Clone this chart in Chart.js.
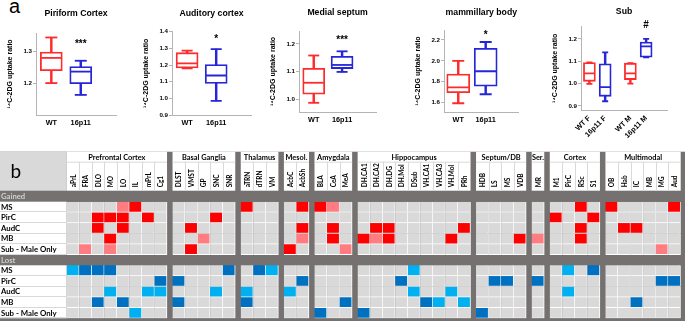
<!DOCTYPE html>
<html>
<head>
<meta charset="utf-8">
<style>
  html, body { margin: 0; padding: 0; background: #fff; }
  #fig { position: relative; width: 685px; height: 321px; overflow: hidden; }
  canvas { position: absolute; }
  #lblA { position: absolute; left: 9px; top: -3.6px; font: 20px 'Liberation Sans', Arial, sans-serif; line-height: 20px; }
</style>
<script src="https://cdn.jsdelivr.net/npm/chart.js@4"></script>
</head>
<body>
<div id="fig">
  <div id="lblA">a</div>
  <canvas id="cPir"></canvas>
  <canvas id="cAud"></canvas>
  <canvas id="cMS"></canvas>
  <canvas id="cMB"></canvas>
  <canvas id="cSub"></canvas>
  <canvas id="cB"></canvas>
</div>
<script>
// ---------- panel a: box plots, [min, Q1, median, Q3, max] ----------
const pairLabels = ['WT', '16p11'];
const subLabels = ['WT F', '16p11 F', 'WT M', '16p11 M'];

const piriformWT = [1.200, 1.239, 1.279, 1.297, 1.343];
const piriform16p11 = [1.163, 1.198, 1.236, 1.252, 1.270];
const auditoryWT = [1.180, 1.183, 1.210, 1.274, 1.286];
const auditory16p11 = [0.985, 1.089, 1.137, 1.203, 1.296];
const septumWT = [0.988, 1.019, 1.060, 1.112, 1.158];
const septum16p11 = [1.099, 1.111, 1.124, 1.155, 1.173];
const mammillaryWT = [1.594, 1.695, 1.746, 1.874, 2.000];
const mammillary16p11 = [1.680, 1.757, 1.900, 2.120, 2.180];
const subWTF = [0.999, 1.010, 1.046, 1.094, 1.095];
const sub16p11F = [0.921, 0.943, 0.984, 1.088, 1.139];
const subWTM = [1.000, 1.018, 1.046, 1.091, 1.091];
const sub16p11M = [1.117, 1.118, 1.166, 1.185, 1.200];

const piriformTicks = [1.2, 1.3];
const auditoryTicks = [0.9, 1.0, 1.1, 1.2, 1.3, 1.4];
const septumTicks = [1.0, 1.1, 1.2];
const mammillaryTicks = [1.6, 1.8, 2.0, 2.2];
const subTicks = [0.9, 1.0, 1.1, 1.2];

// ---------- panel b: 0 = none, 1 = weak, 2 = strong ----------
const groupNames = ['Prefrontal Cortex', 'Basal Ganglia', 'Thalamus', 'Mesol.', 'Amygdala',
  'Hippocampus', 'Septum/DB', 'Ser.', 'Cortex', 'Multimodal'];
const groupSizes = [8, 5, 3, 2, 3, 9, 4, 1, 4, 6];
const regions = ['aPrL', 'FRA', 'DLO', 'MO', 'LO', 'IL', 'mPrL', 'Cg1',
  'DLST', 'VMST', 'GP', 'SNC', 'SNR',
  'aTRN', 'dTRN', 'VM',
  'AcbC', 'AcbSh',
  'BLA', 'CeA', 'MeA',
  'DH.CA1', 'DH.CA2', 'DH.DG', 'DH.Mol', 'DSub', 'VH.CA1', 'VH.CA3', 'VH.Mol', 'PRh',
  'HDB', 'LS', 'MS', 'VDB',
  'MR',
  'M1', 'PirC', 'RSc', 'S1',
  'OB', 'Hab', 'IC', 'MB', 'MG', 'Aud'];
const rowLabels = ['MS', 'PirC', 'AudC', 'MB', 'Sub - Male Only'];

const gainedMS   = [0,0,0,0,1,2,0,0, 0,0,0,0,0, 2,0,0, 0,2, 2,1,0, 0,0,0,0,0,0,0,0,0, 0,0,0,0, 0, 0,0,2,0, 2,0,0,0,0,2];
const gainedPirC = [0,0,2,2,2,0,2,0, 0,0,0,2,0, 0,0,0, 0,0, 0,0,0, 0,0,0,0,0,0,0,0,0, 0,0,0,0, 0, 2,0,0,2, 0,0,0,0,0,0];
const gainedAudC = [0,0,2,0,2,0,0,0, 0,2,0,0,0, 0,0,0, 0,2, 0,2,0, 0,2,2,0,0,0,0,0,2, 0,0,0,0, 0, 0,0,2,0, 0,2,2,0,0,0];
const gainedMB   = [0,0,0,2,0,0,0,0, 0,0,1,0,0, 0,0,0, 0,1, 0,2,0, 2,1,2,0,0,0,0,2,0, 0,0,0,2, 1, 0,0,2,0, 0,0,0,0,0,0];
const gainedSub  = [0,1,0,1,0,0,0,0, 0,2,0,0,0, 0,0,0, 2,0, 0,0,1, 0,0,0,0,0,0,0,0,0, 0,0,0,0, 0, 0,0,0,0, 0,0,0,0,1,0];

const lostMS   = [1,2,2,2,0,0,0,0, 0,0,0,0,2, 0,2,1, 0,0, 0,0,0, 0,0,0,0,1,0,0,0,0, 0,0,0,0, 0, 0,1,0,2, 0,0,0,0,0,0];
const lostPirC = [0,0,0,0,0,0,0,2, 2,0,0,0,0, 0,0,0, 0,2, 0,0,0, 0,0,0,2,0,0,0,0,0, 0,2,2,0, 2, 0,0,0,0, 0,0,0,0,2,2];
const lostAudC = [0,0,0,1,0,0,1,1, 0,0,0,1,0, 1,0,0, 1,0, 0,0,0, 0,0,0,0,1,0,0,1,0, 0,0,0,0, 0, 0,1,0,0, 0,0,0,0,0,0];
const lostMB   = [0,0,2,0,2,0,0,0, 2,0,0,0,0, 2,0,0, 0,0, 0,0,2, 0,0,0,0,0,2,1,0,1, 0,0,0,0, 0, 0,0,0,0, 0,0,2,0,0,0];
const lostSub  = [0,0,0,0,0,1,0,0, 0,0,0,0,0, 0,0,0, 0,0, 2,0,0, 2,0,0,0,0,0,0,0,0, 2,0,0,0, 0, 0,0,0,0, 0,0,0,0,0,0];

// ---------- styling ----------
Chart.defaults.font.family = "'Liberation Sans', Arial, sans-serif";
Chart.defaults.color = '#000';
const RED = '#ff2a2a';
const BLUE = '#2626d9';
const AXIS = '#b4b4b4';
const DARK = '#767171';
const LIGHT = '#d9d9d9';
const gainColors = [LIGHT, '#ff7c80', '#ff0000'];
const lossColors = [LIGHT, '#00b0f0', '#0070c0'];
const HFONT = "Lato, 'Open Sans', sans-serif";

// significance marks above a group
const sigMark = {
  id: 'sig',
  afterDatasetsDraw(chart, args, opts) {
    if (!opts.text) return;
    const ctx = chart.ctx;
    ctx.save();
    ctx.font = 'bold 10px "Liberation Sans", Arial, sans-serif';
    ctx.fillStyle = '#000';
    ctx.textAlign = 'center';
    ctx.textBaseline = 'middle';
    ctx.fillText(opts.text, chart.scales.x.getPixelForValue(opts.at), opts.y);
    ctx.restore();
  }
};

function boxChart(id, o) {
  const axisW = 30;
  const cv = document.getElementById(id);
  cv.width = o.right - o.left + axisW + 4;
  cv.height = o.bottom + o.xH;
  cv.style.left = (o.left - axisW) + 'px';
  cv.style.top = '0px';

  const whisk = o.groups.map((g, i) => ({x: o.pos[i], y: [g[0], g[4]]}));
  const box = o.groups.map((g, i) => ({x: o.pos[i], y: [g[1], g[3]]}));
  const med = o.groups.map((g, i) => ({x: o.pos[i], y: g[2]}));
  const caps = o.groups.flatMap((g, i) => [{x: o.pos[i], y: g[0]}, {x: o.pos[i], y: g[4]}]);
  const capColors = o.colors.flatMap(c => [c, c]);

  new Chart(cv, {
    type: 'bar',
    data: {
      datasets: [
        {type: 'line', data: med, showLine: false, pointStyle: 'line', pointRadius: o.boxW / 2 - 0.9,
         pointBorderColor: o.colors, pointBorderWidth: 1.8, order: 0},
        {type: 'line', data: caps, showLine: false, pointStyle: 'line', pointRadius: o.capW / 2,
         pointBorderColor: capColors, pointBorderWidth: 1.8, order: 0},
        {data: box, backgroundColor: '#fff', borderColor: o.colors, borderWidth: 1.8,
         borderSkipped: false, barThickness: o.boxW, order: 1},
        {data: whisk, backgroundColor: o.colors, borderWidth: 0, barThickness: 1.8, order: 2}
      ]
    },
    options: {
      responsive: false,
      animation: false,
      events: [],
      layout: {padding: {left: 0, right: 4, top: 0, bottom: 0}},
      plugins: {
        legend: {display: false},
        tooltip: {enabled: false},
        title: {display: true, text: o.title, fullSize: false, color: '#000',
                font: {size: 8.7, weight: 'bold'},
                padding: {top: o.tTop, bottom: o.top - o.tTop - 10.44}},
        sig: o.sig
      },
      scales: {
        x: {
          type: 'linear', stacked: true, offset: false, min: o.xMin, max: o.xMax,
          afterBuildTicks: s => { s.ticks = o.pos.map(v => ({value: v})); },
          afterFit: s => { s.height = o.xH; },
          grid: {display: false, drawTicks: false},
          border: {display: true, color: AXIS, width: 1},
          ticks: {autoSkip: false, padding: 4, minRotation: o.rot, maxRotation: o.rot,
                  font: {size: 7.3, weight: 'bold'}, callback: (v, i) => o.labels[i]}
        },
        y: {
          type: 'linear', stacked: false, min: o.yMin, max: o.yMax,
          afterBuildTicks: s => { s.ticks = o.yTicks.map(v => ({value: v})); },
          afterFit: s => { s.width = axisW; },
          grid: {drawOnChartArea: false, drawTicks: true, tickLength: 3, color: AXIS},
          border: {display: true, color: AXIS, width: 1},
          ticks: {padding: 1, font: {size: 6.2, weight: 'bold'}, callback: v => v.toFixed(1)},
          title: {display: true, text: '¹⁴C-2DG uptake ratio', color: '#000',
                  font: {size: 7, weight: 'bold'}, padding: 0}
        }
      }
    },
    plugins: [sigMark]
  });
}

const pairPos = [1, 2];
const subPos = [1, 2, 3.6, 4.6];

boxChart('cPir', {left: 36, right: 124.4, top: 33, bottom: 115, xH: 20, tTop: 8.8,
  title: 'Piriform Cortex', labels: pairLabels, pos: pairPos, xMin: 0.48, xMax: 3.2, rot: 0,
  groups: [piriformWT, piriform16p11], colors: [RED, BLUE], boxW: 22, capW: 12,
  yMin: 1.1, yMax: 1.357, yTicks: piriformTicks, sig: {text: '***', at: 2, y: 44}});

boxChart('cAud', {left: 172, right: 259, top: 31.7, bottom: 115, xH: 20, tTop: 8.8,
  title: 'Auditory cortex', labels: pairLabels, pos: pairPos, xMin: 0.48, xMax: 3.2, rot: 0,
  groups: [auditoryWT, auditory16p11], colors: [RED, BLUE], boxW: 22, capW: 11,
  yMin: 0.9, yMax: 1.4, yTicks: auditoryTicks, sig: {text: '*', at: 2, y: 39.5}});

boxChart('cMS', {left: 299, right: 384.7, top: 31, bottom: 112.7, xH: 20, tTop: 7.8,
  title: 'Medial septum', labels: pairLabels, pos: pairPos, xMin: 0.48, xMax: 3.2, rot: 0,
  groups: [septumWT, septum16p11], colors: [RED, BLUE], boxW: 22, capW: 11,
  yMin: 0.955, yMax: 1.246, yTicks: septumTicks, sig: {text: '***', at: 2, y: 40.5}});

boxChart('cMB', {left: 444, right: 527, top: 30, bottom: 112, xH: 20, tTop: 7.5,
  title: 'mammillary body', labels: pairLabels, pos: pairPos, xMin: 0.48, xMax: 3.2, rot: 0,
  groups: [mammillaryWT, mammillary16p11], colors: [RED, BLUE], boxW: 23, capW: 12,
  yMin: 1.51, yMax: 2.295, yTicks: mammillaryTicks, sig: {text: '*', at: 2, y: 35.5}});

boxChart('cSub', {left: 581, right: 670, top: 26.7, bottom: 110, xH: 34, tTop: 6.8,
  title: 'Sub', labels: subLabels, pos: subPos, xMin: 0.466, xMax: 5.93, rot: 45,
  groups: [subWTF, sub16p11F, subWTM, sub16p11M], colors: [RED, BLUE, RED, BLUE], boxW: 12, capW: 6,
  yMin: 0.882, yMax: 1.254, yTicks: subTicks, sig: {text: '#', at: 4.6, y: 25}});

// ---------- panel b: region grid ----------
const GAP = 0.44;
const groupStart = [];
let acc = 0;
groupSizes.forEach(n => { groupStart.push(acc); acc += n + GAP; });
const xTotal = acc - GAP;
const colX = [];
groupSizes.forEach((n, g) => { for (let k = 0; k < n; k++) colX.push(groupStart[g] + k + 0.5); });

const gainedRows = [gainedMS, gainedPirC, gainedAudC, gainedMB, gainedSub];
const lostRows = [lostMS, lostPirC, lostAudC, lostMB, lostSub];
const LOST_OFFSET = 6;

function cellSet(row, r, pal) {
  return {
    data: row.map((v, i) => ({x: colX[i], y: [r, r + 1]})),
    backgroundColor: row.map(v => pal[v]),
    borderColor: '#ffffff',
    borderWidth: {top: 0, left: 0, right: 1, bottom: 1},
    borderSkipped: false,
    categoryPercentage: 1,
    barPercentage: 1
  };
}

const frame = {
  id: 'frame',
  beforeDatasetsDraw(chart) {
    const {ctx, chartArea: a, scales: {x, y}} = chart;
    const hTop = a.top - 50, gRow = hTop + 10, hBot = a.top - 11;
    ctx.save();
    ctx.fillStyle = DARK;
    ctx.fillRect(0, hTop, chart.width, chart.height - hTop);
    ctx.fillStyle = LIGHT;
    ctx.fillRect(0, hTop, a.left, hBot - hTop);
    ctx.fillStyle = '#000';
    ctx.font = '19px ' + HFONT;
    ctx.textAlign = 'left';
    ctx.textBaseline = 'alphabetic';
    ctx.fillText('b', 10.5, hTop + 26.6);

    // group headers
    groupNames.forEach((name, g) => {
      const x0 = x.getPixelForValue(groupStart[g]);
      const x1 = x.getPixelForValue(groupStart[g] + groupSizes[g]);
      ctx.fillStyle = '#fff';
      ctx.fillRect(x0, hTop, x1 - x0, hBot - hTop);
      ctx.strokeStyle = LIGHT;
      ctx.lineWidth = 1;
      ctx.beginPath();
      ctx.moveTo(x0, gRow + 0.5); ctx.lineTo(x1, gRow + 0.5);
      for (let k = 1; k < groupSizes[g]; k++) {
        const xx = Math.round(x.getPixelForValue(groupStart[g] + k)) + 0.5;
        ctx.moveTo(xx, gRow); ctx.lineTo(xx, hBot);
      }
      ctx.stroke();
      ctx.fillStyle = '#000';
      ctx.font = 'bold 7.4px ' + HFONT;
      ctx.textAlign = 'center';
      ctx.textBaseline = 'middle';
      ctx.fillText(name, (x0 + x1) / 2, (hTop + gRow) / 2 + 0.5);
    });

    // rotated region names
    ctx.font = 'bold 6.5px ' + HFONT;
    ctx.textAlign = 'left';
    ctx.textBaseline = 'middle';
    regions.forEach((name, i) => {
      ctx.save();
      ctx.translate(x.getPixelForValue(colX[i]) + 0.5, hBot - 3.4);
      ctx.rotate(-Math.PI / 2);
      ctx.fillText(name, 0, 0);
      ctx.restore();
    });

    // band labels
    ctx.fillStyle = '#d0cece';
    ctx.font = 'bold 7.7px ' + HFONT;
    ctx.fillText('Gained', 1, (hBot + a.top) / 2 + 0.5);
    ctx.fillText('Lost', 1, y.getPixelForValue(LOST_OFFSET - 0.5) + 0.5);

    // row labels
    [0, LOST_OFFSET].forEach(off => {
      const t = y.getPixelForValue(off), b = y.getPixelForValue(off + rowLabels.length);
      ctx.fillStyle = '#fff';
      ctx.fillRect(0, t, a.left, b - t);
      rowLabels.forEach((lab, r) => {
        const rt = y.getPixelForValue(off + r), rb = y.getPixelForValue(off + r + 1);
        ctx.strokeStyle = LIGHT;
        ctx.beginPath();
        ctx.moveTo(0, Math.round(rb) - 0.5); ctx.lineTo(a.left, Math.round(rb) - 0.5);
        ctx.stroke();
        ctx.fillStyle = '#000';
        ctx.font = 'bold 7.8px ' + HFONT;
        ctx.textAlign = 'left';
        ctx.textBaseline = 'middle';
        ctx.fillText(lab, 1, (rt + rb) / 2);
      });
    });
    ctx.restore();
  }
};

const cvB = document.getElementById('cB');
cvB.width = 685;
cvB.height = 181;
cvB.style.left = '0px';
cvB.style.top = '140px';

new Chart(cvB, {
  type: 'bar',
  data: {
    datasets: [
      ...gainedRows.map((row, r) => cellSet(row, r, gainColors)),
      ...lostRows.map((row, r) => cellSet(row, r + LOST_OFFSET, lossColors))
    ]
  },
  options: {
    responsive: false,
    animation: false,
    events: [],
    layout: {padding: {left: 66.7, right: 4.3, top: 61.7, bottom: 2.7}},
    plugins: {legend: {display: false}, tooltip: {enabled: false}},
    scales: {
      x: {type: 'linear', display: false, stacked: true, offset: false, min: 0, max: xTotal, ticks: {stepSize: 100}},
      y: {type: 'linear', display: false, stacked: false, reverse: true, min: 0, max: 11, ticks: {stepSize: 100}}
    }
  },
  plugins: [frame]
});
</script>
</body>
</html>
